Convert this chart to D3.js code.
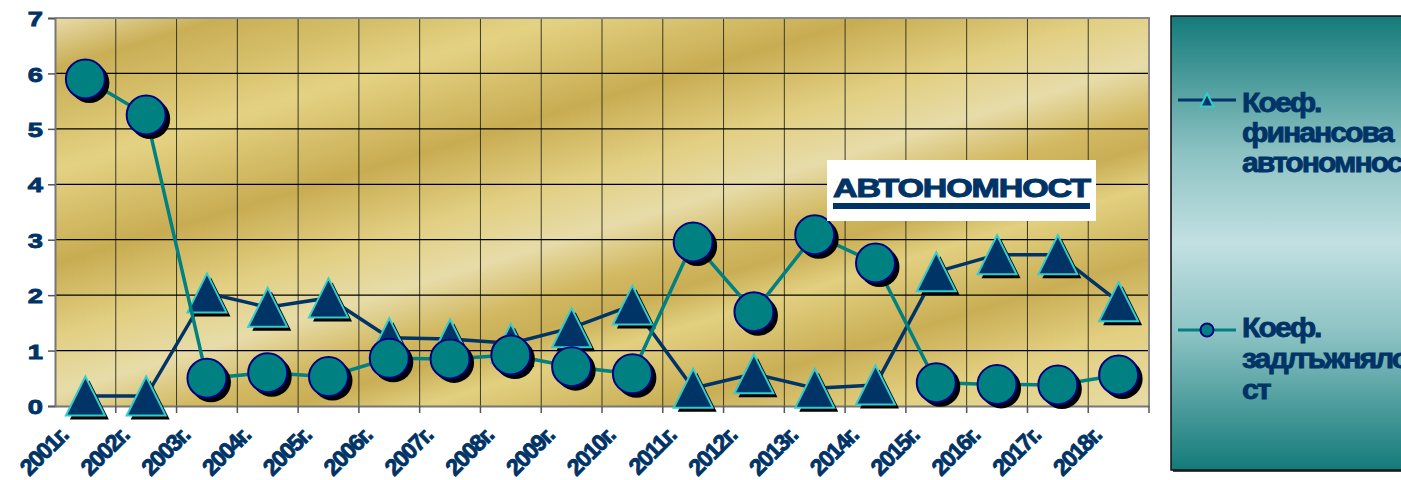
<!DOCTYPE html>
<html>
<head>
<meta charset="utf-8">
<script src="https://cdn.jsdelivr.net/npm/d3@7"></script>
<style>
  html, body { margin: 0; padding: 0; background: #ffffff; overflow: hidden; }
  svg { display: block; font-family: "Liberation Sans", Arial, sans-serif; }
</style>
</head>
<body>
<svg id="chart" width="1401" height="480"></svg>
<script>
// ---- data ----
const categories = ["2001г.","2002г.","2003г.","2004г.","2005г.","2006г.","2007г.","2008г.","2009г.",
                    "2010г.","2011г.","2012г.","2013г.","2014г.","2015г.","2016г.","2017г.","2018г."];
const autonomy = [0.18,0.18,2.04,1.78,1.95,1.23,1.21,1.13,1.41,1.82,0.32,0.58,0.32,0.38,2.42,2.73,2.73,1.88];
const indebtedness = [5.90,5.25,0.50,0.60,0.53,0.86,0.85,0.92,0.71,0.58,2.96,1.70,3.09,2.58,0.42,0.39,0.38,0.56];
const yTicks = [0,1,2,3,4,5,6,7];
const seriesNames = [["Коеф.","финансова","автономност"],["Коеф.","задлъжняло","ст"]];
const titleText = "АВТОНОМНОСТ";

// ---- layout ----
const plot = {left: 55, right: 1149, top: 18, bottom: 406};
const NAVY = "#003366", TEAL = "#008080", CYAN = "#33CCCC", DBLUE = "#000080";
const FONT = "Liberation Sans, Arial, sans-serif";

const svg = d3.select("#chart");
const defs = svg.append("defs");

// gold background gradient (diagonal bands)
const g1 = defs.append("linearGradient").attr("id","gold")
  .attr("gradientUnits","userSpaceOnUse")
  .attr("x1", 55).attr("y1", 18).attr("x2", 55 + 0.29*690).attr("y2", 18 + 0.96*690);
[[0,"#E8DCAA"],[0.07,"#C9AE55"],[0.14,"#D6BF6A"],[0.21,"#E4D283"],[0.34,"#C8AC52"],
 [0.44,"#E2CF82"],[0.52,"#E7DCA9"],[0.59,"#D2B962"],[0.635,"#C9AE55"],[0.69,"#E2D080"],
 [0.79,"#C9AE55"],[0.88,"#E2CF80"],[1,"#E8DCA8"]]
  .forEach(([o,c]) => g1.append("stop").attr("offset", o).attr("stop-color", c));

// legend gradient
const g2 = defs.append("linearGradient").attr("id","teal").attr("x1",0).attr("y1",0).attr("x2",0).attr("y2",1);
[[0,"#147A7A"],[0.3,"#8CC2C3"],[0.5,"#C2E0E2"],[0.7,"#8CC2C3"],[1,"#147A7A"]]
  .forEach(([o,c]) => g2.append("stop").attr("offset", o).attr("stop-color", c));

const x = d3.scaleBand().domain(categories).range([plot.left, plot.right]).padding(0);
const y = d3.scaleLinear().domain([0,7]).range([plot.bottom, plot.top]);
const cx = d => x(d) + x.bandwidth()/2;

// plot background
svg.append("rect").attr("x", plot.left).attr("y", plot.top)
  .attr("width", plot.right - plot.left).attr("height", plot.bottom - plot.top)
  .attr("fill","url(#gold)");

// gridlines
svg.append("g").selectAll("line").data(categories.slice(1)).join("line")
  .attr("x1", d => x(d)).attr("x2", d => x(d)).attr("y1", plot.top).attr("y2", plot.bottom)
  .attr("stroke","#3a3a2a").attr("stroke-width",1);
svg.append("g").selectAll("line").data(yTicks.slice(1)).join("line")
  .attr("x1", plot.left).attr("x2", plot.right).attr("y1", d => y(d)).attr("y2", d => y(d))
  .attr("stroke","#000").attr("stroke-width",1.3);

// border top/right
svg.append("path").attr("d", `M${plot.left},${plot.top}H${plot.right}V${plot.bottom}`)
  .attr("fill","none").attr("stroke","#8a8a8a").attr("stroke-width",2);

// y axis
const yAxis = svg.append("g").attr("transform", `translate(${plot.left},0)`)
  .call(d3.axisLeft(y).tickValues(yTicks).tickSize(7).tickPadding(5).tickFormat(d3.format("d")));
yAxis.select(".domain").attr("stroke","#777").attr("stroke-width",2);
yAxis.selectAll(".tick line").attr("stroke","#555").attr("stroke-width",1.5);
yAxis.selectAll(".tick text").attr("fill", NAVY).attr("font-size", 21).attr("font-weight","bold")
  .attr("stroke", NAVY).attr("stroke-width", 0.9)
  .attr("font-family", FONT).attr("x", 0).attr("dy", "0.36em")
  .attr("transform", "translate(-12,0) scale(1.3,1)");

// x axis
const xAxis = svg.append("g").attr("transform", `translate(0,${plot.bottom})`)
  .call(d3.axisBottom(x).tickSize(0).tickPadding(0));
xAxis.select(".domain").attr("stroke","#777").attr("stroke-width",2);
xAxis.selectAll(".tick text")
  .attr("fill", NAVY).attr("font-size", 23).attr("font-weight","bold")
  .attr("stroke", NAVY).attr("stroke-width", 0.9)
  .attr("font-family", FONT)
  .attr("letter-spacing", -1.4)
  .attr("text-anchor","end").attr("dy", null)
  .attr("transform", "translate(-16,31) rotate(-45)")
  .attr("y", 0);
svg.append("g").selectAll("line").data(categories.slice(1).concat([null])).join("line")
  .attr("x1", d => d === null ? plot.right : x(d)).attr("x2", d => d === null ? plot.right : x(d))
  .attr("y1", plot.bottom).attr("y2", plot.bottom + 7)
  .attr("stroke","#555").attr("stroke-width",1.5);

// lines
const line = d3.line().x((d,i) => cx(categories[i])).y(d => y(d));
svg.append("path").datum(autonomy).attr("d", line).attr("fill","none")
  .attr("stroke", NAVY).attr("stroke-width", 3.5);

const tri = (px, py, s) => `M${px},${py - s}L${px + s},${py + s}L${px - s},${py + s}Z`;
const triG = svg.append("g");
triG.selectAll("path.sh").data(autonomy).join("path").attr("class","sh")
  .attr("d", (d,i) => tri(cx(categories[i]) + 4, y(d) + 4, 19.5)).attr("fill","#000");
triG.selectAll("path.mk").data(autonomy).join("path").attr("class","mk")
  .attr("d", (d,i) => tri(cx(categories[i]), y(d), 19.5))
  .attr("fill", NAVY).attr("stroke", CYAN).attr("stroke-width", 2).attr("stroke-linejoin","miter");

svg.append("path").datum(indebtedness).attr("d", line).attr("fill","none")
  .attr("stroke", TEAL).attr("stroke-width", 3.5);
const cirG = svg.append("g");
cirG.selectAll("circle.sh").data(indebtedness).join("circle").attr("class","sh")
  .attr("cx", (d,i) => cx(categories[i]) + 4).attr("cy", d => y(d) + 4).attr("r", 20).attr("fill","#000");
cirG.selectAll("circle.mk").data(indebtedness).join("circle").attr("class","mk")
  .attr("cx", (d,i) => cx(categories[i])).attr("cy", d => y(d)).attr("r", 19.5)
  .attr("fill", TEAL).attr("stroke", DBLUE).attr("stroke-width", 2);

// title box
svg.append("rect").attr("x", 827).attr("y", 160).attr("width", 269).attr("height", 61).attr("fill","#fff");
const title = svg.append("text").attr("x", 0).attr("y", 0).text(titleText)
  .attr("fill", NAVY).attr("font-size", 25).attr("font-weight","bold").attr("font-family", FONT)
  .attr("stroke", NAVY).attr("stroke-width", 1)
  .attr("letter-spacing", -0.8);
const tl = title.node().getComputedTextLength();
title.attr("transform", `translate(833,197) scale(${257 / tl},1)`);
svg.append("rect").attr("x", 833).attr("y", 203).attr("width", 257).attr("height", 6).attr("fill", NAVY);

// legend
svg.append("rect").attr("x", 1173).attr("y", 18).attr("width", 240).attr("height", 454).attr("fill","#444");
svg.append("rect").attr("x", 1171).attr("y", 16).attr("width", 240).attr("height", 454)
  .attr("fill","url(#teal)").attr("stroke","#111").attr("stroke-width",1.5);

const legY = [100, 330];
const legBase = [[112,142,172],[337,368,399]];
const leg = svg.append("g");
leg.append("line").attr("x1",1178).attr("x2",1236).attr("y1",legY[0]).attr("y2",legY[0])
  .attr("stroke",NAVY).attr("stroke-width",3);
leg.append("path").attr("d", tri(1207, legY[0], 6.5)).attr("fill",NAVY).attr("stroke",CYAN).attr("stroke-width",2);
leg.append("line").attr("x1",1178).attr("x2",1236).attr("y1",legY[1]).attr("y2",legY[1])
  .attr("stroke",TEAL).attr("stroke-width",3);
leg.append("circle").attr("cx",1207).attr("cy",legY[1]).attr("r",6.5).attr("fill",TEAL).attr("stroke",DBLUE).attr("stroke-width",2);

seriesNames.forEach((lines, k) => {
  const t = leg.append("text").attr("fill", NAVY).attr("font-size", 27).attr("font-weight","bold")
    .attr("stroke", NAVY).attr("stroke-width", 0.8)
    .attr("font-family", FONT).attr("letter-spacing", -1.8)
    .attr("transform", "translate(1242,0) scale(1.12,1)");
  lines.forEach((s, j) => t.append("tspan").attr("x", 0).attr("y", legBase[k][j]).text(s));
});
</script>
</body>
</html>
